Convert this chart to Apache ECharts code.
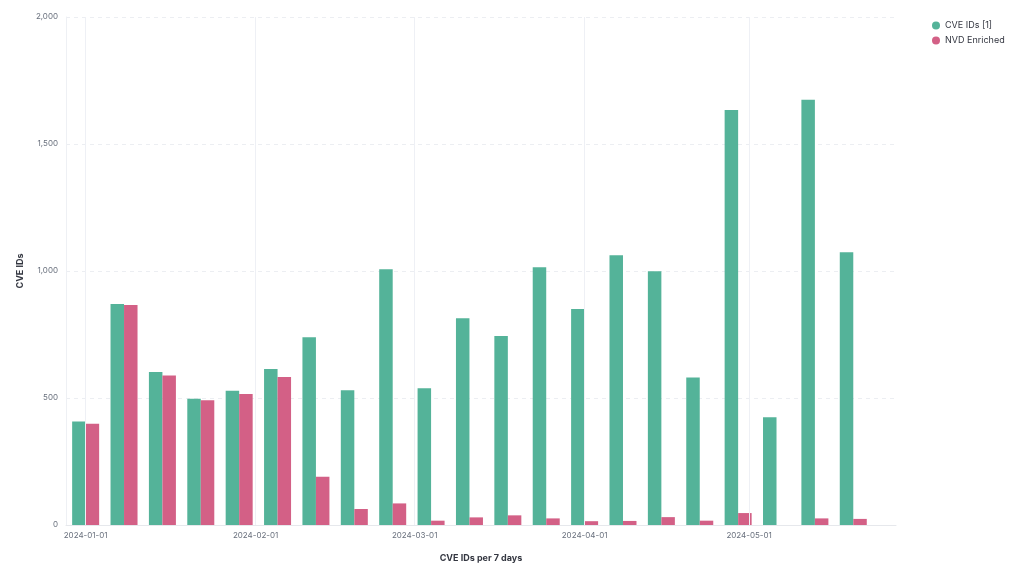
<!DOCTYPE html>
<html><head><meta charset="utf-8">
<script src="https://cdn.jsdelivr.net/npm/echarts@6/dist/echarts.min.js"></script>
<style>html,body{margin:0;padding:0;background:#fff}#c{width:1023px;height:572px}</style>
</head><body><div id="c"></div>
<script>
const weeks = ['2024-01-01','2024-01-08','2024-01-15','2024-01-22','2024-01-29','2024-02-05','2024-02-12','2024-02-19','2024-02-26','2024-03-04','2024-03-11','2024-03-18','2024-03-25','2024-04-01','2024-04-08','2024-04-15','2024-04-22','2024-04-29','2024-05-06','2024-05-13','2024-05-20'];
const cveIds = [407, 870, 602, 497, 529, 614, 739, 531, 1007, 538, 814, 744, 1015, 850, 1062, 999, 581, 1634, 424, 1674, 1074];
const nvdEnriched = [399, 866, 589, 491, 516, 583, 190, 63, 85, 17, 30, 38, 26, 15, 16, 31, 17, 47, 0, 26, 24];
const monthTicks = ['2024-01-01','2024-02-01','2024-03-01','2024-04-01','2024-05-01'];
const yTicks = [0, 500, 1000, 1500, 2000];
const seriesNames = ['CVE IDs [1]', 'NVD Enriched'];

function ts(s, h) { const p = s.split('-').map(Number); return new Date(p[0], p[1]-1, p[2], h || 0).getTime(); }
function pad(n){ return (n<10?'0':'')+n; }
function fmt(v){ const d = new Date(v); return d.getFullYear()+'-'+pad(d.getMonth()+1)+'-'+pad(d.getDate()); }

const FONT = 'Inter, "Noto Sans", sans-serif';
const chart = echarts.init(document.getElementById('c'));
chart.setOption({
  animation: false,
  textStyle: { fontFamily: FONT },
  grid: { left: 66, right: 127, top: 17, bottom: 47 },
  legend: {
    data: seriesNames, orient: 'vertical', left: 927, top: 16,
    icon: 'circle', itemWidth: 8, itemHeight: 8, itemGap: 6,
    textStyle: { fontSize: 9, color: '#343741', fontFamily: FONT }
  },
  xAxis: {
    type: 'value',
    min: ts('2023-12-28', 10), max: ts('2024-05-27', 19),
    name: 'CVE IDs per 7 days', nameLocation: 'middle', nameGap: 29,
    nameTextStyle: { fontWeight: 'bold', fontSize: 9, color: '#343741', fontFamily: FONT },
    axisLine: { show: true, lineStyle: { color: '#e6e8ec' } },
    axisTick: { show: false, customValues: monthTicks.map(t => ts(t)) },
    splitLine: { show: false },
    axisLabel: {
      customValues: monthTicks.map(t => ts(t)),
      formatter: v => fmt(v), color: '#69707d', fontSize: 8, margin: 7, fontFamily: FONT
    }
  },
  yAxis: {
    type: 'value', min: yTicks[0], max: yTicks[yTicks.length-1], interval: 500,
    name: 'CVE IDs', nameLocation: 'middle', nameGap: 38,
    nameTextStyle: { fontWeight: 'bold', fontSize: 9, color: '#343741', fontFamily: FONT },
    axisLine: { show: true, lineStyle: { color: '#eef0f4' } },
    axisTick: { show: false },
    axisLabel: { formatter: v => v.toLocaleString('en-US'), color: '#69707d', fontSize: 8, margin: 8, fontFamily: FONT },
    splitLine: { lineStyle: { color: '#eceef2', type: [4, 4] } }
  },
  series: [
    {
      name: 'grid', type: 'line', data: [], z: 1, silent: true,
      markLine: {
        silent: true, symbol: 'none', label: { show: false },
        lineStyle: { color: '#eef0f5', type: 'solid', width: 1 },
        data: monthTicks.map(t => ({ xAxis: ts(t) }))
      }
    },
    {
      name: seriesNames[0], type: 'bar', z: 3, barWidth: 13.5, barGap: '0%',
      itemStyle: { color: '#54b399' },
      data: weeks.map((w, i) => [ts(w), cveIds[i]])
    },
    {
      name: seriesNames[1], type: 'bar', z: 3, barWidth: 13.5, barGap: '0%',
      itemStyle: { color: '#d36086' },
      data: weeks.map((w, i) => [ts(w), nvdEnriched[i]])
    }
  ]
});
</script></body></html>
